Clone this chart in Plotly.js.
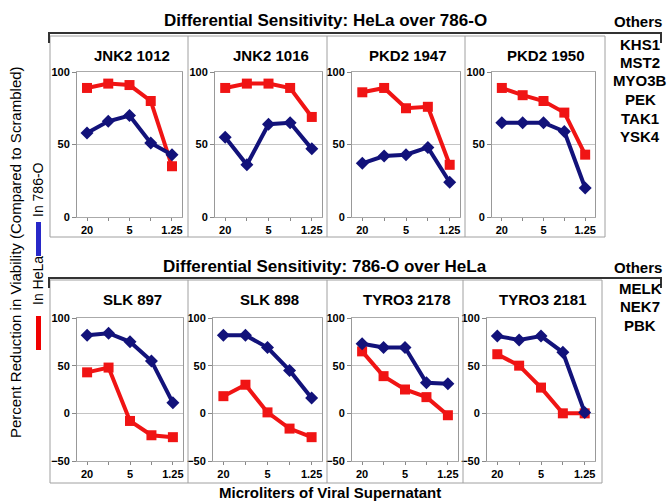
<!DOCTYPE html>
<html>
<head>
<meta charset="utf-8">
<script src="https://cdn.plot.ly/plotly-3.0.1.min.js"></script>
<style>html,body{margin:0;padding:0;background:#fff;}#chart{width:667px;height:502px;}</style>
</head>
<body>
<div id="chart"></div>
<script>
// ---- data ----
const doses = [20, 10, 5, 2.5, 1.25];
const doseTickText = ['20', '', '5', '', '1.25'];

const topTitles = ['JNK2 1012', 'JNK2 1016', 'PKD2 1947', 'PKD2 1950'];
const bottomTitles = ['SLK 897', 'SLK 898', 'TYRO3 2178', 'TYRO3 2181'];

const helaJNK2_1012 = [89, 92, 91, 80, 35];
const c786JNK2_1012 = [58, 66, 70, 51, 43];
const helaJNK2_1016 = [89, 92, 92, 89, 69];
const c786JNK2_1016 = [55, 36, 64, 65, 47];
const helaPKD2_1947 = [86, 89, 75, 76, 36];
const c786PKD2_1947 = [37, 42, 43, 48, 24];
const helaPKD2_1950 = [89, 84, 80, 72, 43];
const c786PKD2_1950 = [65, 65, 65, 59, 20];

const helaSLK_897 = [43, 48, -8, -23, -25];
const c786SLK_897 = [82, 84, 75, 55, 11];
const helaSLK_898 = [18, 30, 1, -16, -25];
const c786SLK_898 = [82, 82, 69, 45, 16];
const helaTYRO3_2178 = [65, 39, 25, 17, -2];
const c786TYRO3_2178 = [73, 69, 69, 32, 31];
const helaTYRO3_2181 = [62, 50, 27, 0, 0];
const c786TYRO3_2181 = [81, 77, 81, 64, 1];

const othersTop = ['KHS1', 'MST2', 'MYO3B', 'PEK', 'TAK1', 'YSK4'];
const othersBottom = ['MELK', 'NEK7', 'PBK'];

const helaSeries = [helaJNK2_1012, helaJNK2_1016, helaPKD2_1947, helaPKD2_1950,
                    helaSLK_897, helaSLK_898, helaTYRO3_2178, helaTYRO3_2181];
const c786Series = [c786JNK2_1012, c786JNK2_1016, c786PKD2_1947, c786PKD2_1950,
                    c786SLK_897, c786SLK_898, c786TYRO3_2178, c786TYRO3_2181];
const panelTitles = topTitles.concat(bottomTitles);

// ---- layout geometry (pixels) ----
const W = 667, H = 502;
const px = x => x / W;
const py = y => 1 - y / H;
const plotX = [[77,182],[215,322],[352,460],[492,595],[77,183],[213,322],[352,458],[487,595]];
const plotY = [[72,217],[318,461]];
const FONT = 'Liberation Sans, Arial, sans-serif';
const RED = '#f01414';
const BLUE = '#12127a';

const traces = [];
const layout = {
  width: W, height: H,
  margin: {l:0, r:0, t:0, b:0},
  paper_bgcolor: '#fff', plot_bgcolor: '#fff',
  showlegend: false,
  font: {family: FONT, color: '#000'},
  shapes: [], annotations: []
};

for (let i = 0; i < 8; i++) {
  const row = i < 4 ? 0 : 1;
  const n = i + 1;
  const xa = 'x' + (n === 1 ? '' : n), ya = 'y' + (n === 1 ? '' : n);
  traces.push({x: doses, y: helaSeries[i], xaxis: xa, yaxis: ya, type: 'scatter', mode: 'lines+markers',
    line: {color: RED, width: 4}, marker: {symbol: 'square', size: 10, color: RED}});
  traces.push({x: doses, y: c786Series[i], xaxis: xa, yaxis: ya, type: 'scatter', mode: 'lines+markers',
    line: {color: BLUE, width: 4}, marker: {symbol: 'diamond', size: 10, color: BLUE}});
  const xk = 'xaxis' + (n === 1 ? '' : n), yk = 'yaxis' + (n === 1 ? '' : n);
  layout[xk] = {
    domain: [px(plotX[i][0]), px(plotX[i][1])], anchor: ya,
    type: 'log', range: [Math.log10(20) + 0.142, Math.log10(1.25) - 0.142],
    tickvals: doses, ticktext: doseTickText, ticks: 'outside', ticklen: 3, tickcolor: '#888',
    showgrid: false, zeroline: false, showline: true, linecolor: '#aaa', mirror: true,
    tickfont: {family: FONT, size: 11, weight: 'bold', color: '#000'}, fixedrange: true
  };
  layout[yk] = {
    domain: [py(plotY[row][1]), py(plotY[row][0])], anchor: xa,
    range: row === 0 ? [0, 100] : [-50, 100], tickvals: row === 0 ? [0,50,100] : [-50,0,50,100],
    ticks: 'outside', ticklen: 4, tickcolor: '#888',
    showgrid: true, gridcolor: '#c4c4c4', gridwidth: 1, zeroline: false,
    showline: true, linecolor: '#999', mirror: true,
    tickfont: {family: FONT, size: 11, weight: 'bold', color: '#000'}, fixedrange: true
  };
  layout.annotations.push({xref: 'paper', yref: 'paper', x: px((plotX[i][0] + plotX[i][1]) / 2 + 2),
    y: py(row === 0 ? 55 : 299), text: '<b>' + panelTitles[i] + '</b>', showarrow: false,
    font: {family: FONT, size: 15}, xanchor: 'center', yanchor: 'middle'});
}

// panel boxes
const boxLine = {color: '#a0a0a0', width: 1};
function rect(x0, y0, x1, y1, line) {
  layout.shapes.push({type: 'rect', xref: 'paper', yref: 'paper', x0: px(x0), x1: px(x1), y0: py(y1), y1: py(y0), line: line});
}
function seg(x0, y0, x1, y1, line) {
  layout.shapes.push({type: 'line', xref: 'paper', yref: 'paper', x0: px(x0), x1: px(x1), y0: py(y0), y1: py(y1), line: line});
}
rect(50, 36, 605, 237, boxLine);
[188, 327, 465].forEach(x => seg(x, 36, x, 237, boxLine));
rect(50, 280, 602, 483, boxLine);
[188, 327, 463].forEach(x => seg(x, 280, x, 483, boxLine));

// brackets
const brk = {color: '#333', width: 2};
seg(48, 33, 662, 33, brk); seg(49, 32, 49, 43, brk); seg(661, 32, 661, 43, brk);
seg(48, 278, 662, 278, brk); seg(49, 277, 49, 288, brk); seg(661, 277, 661, 288, brk);

// legend bars
layout.shapes.push({type: 'rect', xref: 'paper', yref: 'paper', x0: px(36), x1: px(41), y0: py(256), y1: py(222), fillcolor: '#2828c8', line: {width: 0}});
layout.shapes.push({type: 'rect', xref: 'paper', yref: 'paper', x0: px(36), x1: px(41), y0: py(350), y1: py(316), fillcolor: '#f00000', line: {width: 0}});

function ann(x, y, text, size, extra) {
  layout.annotations.push(Object.assign({xref: 'paper', yref: 'paper', x: px(x), y: py(y), text: text, showarrow: false,
    font: {family: FONT, size: size, color: '#000'}, xanchor: 'center', yanchor: 'middle'}, extra || {}));
}
ann(325, 21, '<b>Differential Sensitivity: HeLa over 786-O</b>', 17);
ann(325, 266, '<b>Differential Sensitivity: 786-O over HeLa</b>', 17);
ann(638, 22, '<b>Others</b>', 15);
ann(638, 267, '<b>Others</b>', 15);
othersTop.forEach((t, k) => ann(640, 44 + k * 18.5, '<b>' + t + '</b>', 15));
othersBottom.forEach((t, k) => ann(640, 288 + k * 18.5, '<b>' + t + '</b>', 15));
ann(330, 492, '<b>Microliters of Viral Supernatant</b>', 15);
ann(15, 252, 'Percent Reduction in Viability (Compared to Scrambled)', 15, {textangle: -90});
ann(38, 190, 'In 786-O', 14, {textangle: -90});
ann(38, 281, 'In HeLa', 14, {textangle: -90});

Plotly.newPlot('chart', traces, layout, {staticPlot: true, displayModeBar: false});
</script>
</body>
</html>
